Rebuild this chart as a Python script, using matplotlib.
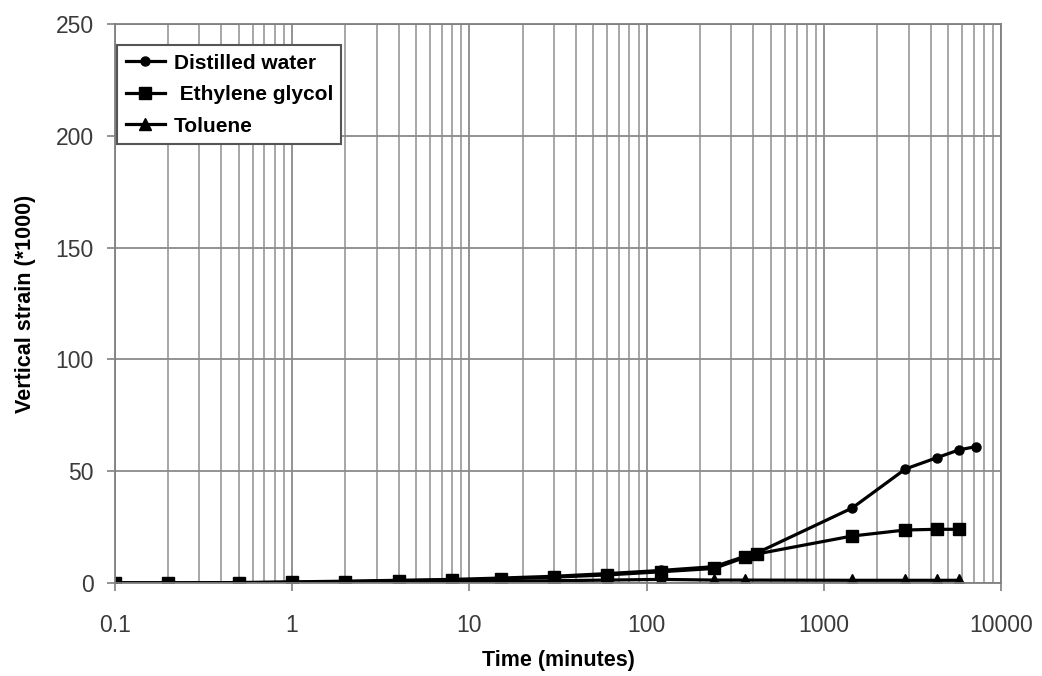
import matplotlib
matplotlib.use("Agg")
from matplotlib import pyplot as plt
from matplotlib.ticker import LogLocator, NullFormatter

plt.rcParams['font.family'] = ['Liberation Sans', 'DejaVu Sans']

# Swell test data
water_t = [0.1, 0.2, 0.5, 1, 2, 4, 8, 15, 30, 60, 120, 240, 360, 420, 1440, 2880, 4320, 5760, 7200]
water_s = [0, 0, 0.2, 0.5, 0.8, 1.2, 1.6, 2.2, 3, 4.2, 5.6, 7.3, 12, 13.5, 33.5, 51, 56, 59.5, 61]

glycol_t = [0.1, 0.2, 0.5, 1, 2, 4, 8, 15, 30, 60, 120, 240, 360, 420, 1440, 2880, 4320, 5760]
glycol_s = [0, 0, 0.1, 0.3, 0.6, 1.0, 1.3, 1.8, 2.6, 3.6, 5.0, 6.5, 11.5, 13, 21, 23.7, 24, 24]

toluene_t = [0.1, 0.2, 0.5, 1, 2, 4, 8, 15, 30, 60, 120, 240, 360, 1440, 2880, 4320, 5760]
toluene_s = [0, 0, 0, 0, 0.2, 0.3, 0.5, 0.8, 1.0, 1.3, 1.6, 1.3, 1.3, 1.2, 1.2, 1.2, 1.2]

xticks = [0.1, 1, 10, 100, 1000, 10000]
xtick_labels = ["0.1", "1", "10", "100", "1000", "10000"]
yticks = [0, 50, 100, 150, 200, 250]

fig = plt.figure(figsize=(10.42, 6.76), dpi=100)
ax = fig.add_axes([0.110, 0.1376, 0.851, 0.827])

ax.plot(water_t, water_s, color="black", lw=2.3, marker="o", ms=6.5, label="Distilled water")
ax.plot(glycol_t, glycol_s, color="black", lw=2.3, marker="s", ms=9, label=" Ethylene glycol")
ax.plot(toluene_t, toluene_s, color="black", lw=2.3, marker="^", ms=8, label="Toluene")

ax.set_xscale("log")
ax.set_xlim(0.1, 10000)
ax.set_ylim(0, 250)
ax.set_xticks(xticks)
ax.set_xticklabels(xtick_labels)
ax.set_yticks(yticks)
ax.xaxis.set_minor_locator(LogLocator(base=10, subs=range(2, 10), numticks=20))
ax.xaxis.set_minor_formatter(NullFormatter())

ax.grid(which="major", color="#8a8a8a", lw=1.3)
ax.grid(which="minor", axis="x", color="#a0a0a0", lw=1.3)
ax.set_axisbelow(True)

for side in ["left", "bottom", "right", "top"]:
    ax.spines[side].set_color("#808080")
    ax.spines[side].set_linewidth(1.3)
ax.tick_params(axis="both", which="major", labelsize=16.5, labelcolor="#3a3a3a",
               color="#808080", length=6, width=1.2)
ax.tick_params(axis="x", which="major", pad=16)
ax.tick_params(axis="y", which="major", pad=9)
ax.tick_params(axis="x", which="minor", length=0)

ax.set_xlabel("Time (minutes)", fontsize=15.5, fontweight="bold", labelpad=10)
ax.set_ylabel("Vertical strain (*1000)", fontsize=15.5, fontweight="bold", labelpad=14)

leg = ax.legend(loc="upper left", bbox_to_anchor=(0.003, 0.962), fancybox=False,
                edgecolor="#555555", framealpha=1, handlelength=1.9, handletextpad=0.4,
                borderpad=0.4, borderaxespad=0, labelspacing=0.6,
                prop={"weight": "bold", "size": 15})
leg.get_frame().set_linewidth(1.5)

fig.savefig("out.png", dpi=100)
